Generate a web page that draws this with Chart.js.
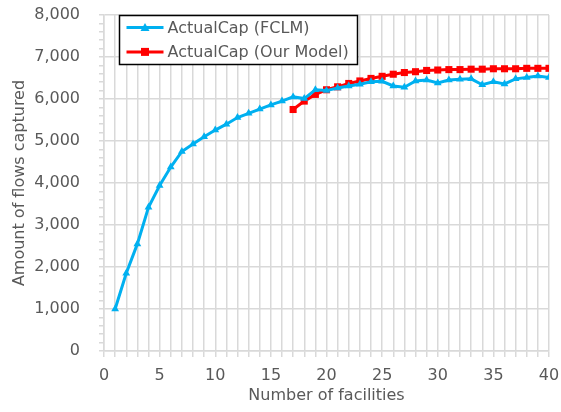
<!DOCTYPE html>
<html>
<head>
<meta charset="utf-8">
<script src="https://cdn.jsdelivr.net/npm/chart.js@4.4.1/dist/chart.umd.min.js"></script>
<style>
  html, body { margin: 0; padding: 0; background: #ffffff; }
  #wrap { width: 561px; height: 412px; position: relative; }
</style>
</head>
<body>
<div id="wrap"><canvas id="c" width="561" height="412"></canvas></div>
<script>
// ---- Data ----
const fclmFacilities = [1,2,3,4,5,6,7,8,9,10,11,12,13,14,15,16,17,18,19,20,21,22,23,24,25,26,27,28,29,30,31,32,33,34,35,36,37,38,39,40];
const fclmValues = [1000,1850,2550,3420,3940,4380,4750,4930,5100,5260,5400,5560,5660,5760,5860,5950,6050,6010,6220,6200,6260,6310,6350,6410,6420,6310,6280,6430,6450,6380,6450,6470,6480,6340,6410,6360,6480,6510,6550,6510];
const ourModelFacilities = [17,18,19,20,21,22,23,24,25,26,27,28,29,30,31,32,33,34,35,36,37,38,39,40];
const ourModelValues = [5750,5950,6110,6220,6290,6370,6430,6490,6540,6590,6630,6650,6680,6690,6700,6700,6710,6710,6720,6720,6720,6730,6730,6730];
const seriesNames = ["ActualCap (FCLM)", "ActualCap (Our Model)"];
const xTitle = "Number of facilities";
const yTitle = "Amount of flows captured";

const cyan = "#00b0f0";
const red = "#ff0000";
const textGrey = "#595959";
const gridGrey = "#d9d9d9";
const FONT = "'DejaVu Sans', sans-serif";

const toPoints = (xs, ys) => xs.map((x, i) => ({ x: x, y: ys[i] }));

// Legend drawn inside plot area with black border (Excel style)
const boxLegend = {
  id: 'boxLegend',
  afterDraw(chart) {
    const ctx = chart.ctx;
    const ca = chart.chartArea;
    const x0 = ca.left + 15.5, y0 = ca.top + 0.5, w = 238, h = 49;
    ctx.save();
    ctx.fillStyle = '#ffffff';
    ctx.fillRect(x0, y0, w, h);
    ctx.strokeStyle = '#000000';
    ctx.lineWidth = 1.5;
    ctx.strokeRect(x0, y0, w, h);
    const items = [
      { name: seriesNames[0], color: cyan, shape: 'triangle' },
      { name: seriesNames[1], color: red, shape: 'rect' }
    ];
    items.forEach((it, i) => {
      const cy = y0 + 12 + i * 24.4;
      ctx.strokeStyle = it.color;
      ctx.lineWidth = 3;
      ctx.beginPath();
      ctx.moveTo(x0 + 7, cy);
      ctx.lineTo(x0 + 44, cy);
      ctx.stroke();
      ctx.fillStyle = it.color;
      const mx = x0 + 25.5;
      if (it.shape === 'triangle') {
        ctx.beginPath();
        ctx.moveTo(mx, cy - 4.5);
        ctx.lineTo(mx + 4.5, cy + 3.5);
        ctx.lineTo(mx - 4.5, cy + 3.5);
        ctx.closePath();
        ctx.fill();
      } else {
        ctx.fillRect(mx - 4, cy - 4, 8, 8);
      }
      ctx.fillStyle = textGrey;
      ctx.font = "16px " + FONT;
      ctx.textBaseline = 'middle';
      ctx.textAlign = 'left';
      ctx.fillText(it.name, x0 + 48, cy + 1);
    });
    ctx.restore();
  }
};

new Chart(document.getElementById('c'), {
  type: 'line',
  data: {
    datasets: [
      {
        label: seriesNames[0],
        data: toPoints(fclmFacilities, fclmValues),
        borderColor: cyan,
        backgroundColor: cyan,
        borderWidth: 3,
        pointStyle: 'triangle',
        pointRadius: 4.5,
        pointBorderWidth: 0,
        tension: 0,
        fill: false
      },
      {
        label: seriesNames[1],
        data: toPoints(ourModelFacilities, ourModelValues),
        borderColor: red,
        backgroundColor: red,
        borderWidth: 3,
        pointStyle: 'rect',
        pointRadius: 5,
        pointBorderWidth: 0,
        tension: 0,
        fill: false
      }
    ]
  },
  options: {
    responsive: false,
    animation: false,
    devicePixelRatio: 1,
    layout: { padding: { left: 0, right: 12, top: 15, bottom: 0 } },
    plugins: {
      legend: { display: false },
      tooltip: { enabled: false }
    },
    scales: {
      x: {
        type: 'linear',
        min: 0, max: 40,
        afterFit: (s) => { s.height = 61; s.paddingLeft = 0; s.paddingRight = 0; },
        border: { color: gridGrey, width: 1.5 },
        grid: { color: gridGrey, lineWidth: 1.5, tickLength: 6, tickColor: gridGrey },
        ticks: {
          stepSize: 1, autoSkip: false, maxRotation: 0, padding: 11,
          color: textGrey, font: { family: FONT, size: 16, lineHeight: 1 },
          callback: (v) => (v % 5 === 0 ? String(v) : '')
        },
        title: { display: true, text: xTitle, color: textGrey, font: { family: FONT, size: 16, lineHeight: 1 }, padding: { top: 0, bottom: 8 } }
      },
      y: {
        min: 0, max: 8000,
        afterFit: (s) => { s.width = 104; s.paddingTop = 0; s.paddingBottom = 0; },
        border: { color: gridGrey, width: 1.5 },
        grid: {
          color: (c) => (c.tick && c.tick.value % 1000 === 0 ? gridGrey : 'rgba(0,0,0,0)'),
          tickColor: gridGrey,
          lineWidth: 1.5, tickLength: 5
        },
        ticks: {
          stepSize: 200, autoSkip: false, padding: 19,
          color: textGrey, font: { family: FONT, size: 16, lineHeight: 1 },
          callback: (v) => (v % 1000 === 0 ? v.toLocaleString('en-US') : '')
        },
        title: { display: true, text: yTitle, color: textGrey, font: { family: FONT, size: 16, lineHeight: 1 }, padding: { top: 12, bottom: 0 } }
      }
    }
  },
  plugins: [boxLegend]
});
</script>
</body>
</html>
